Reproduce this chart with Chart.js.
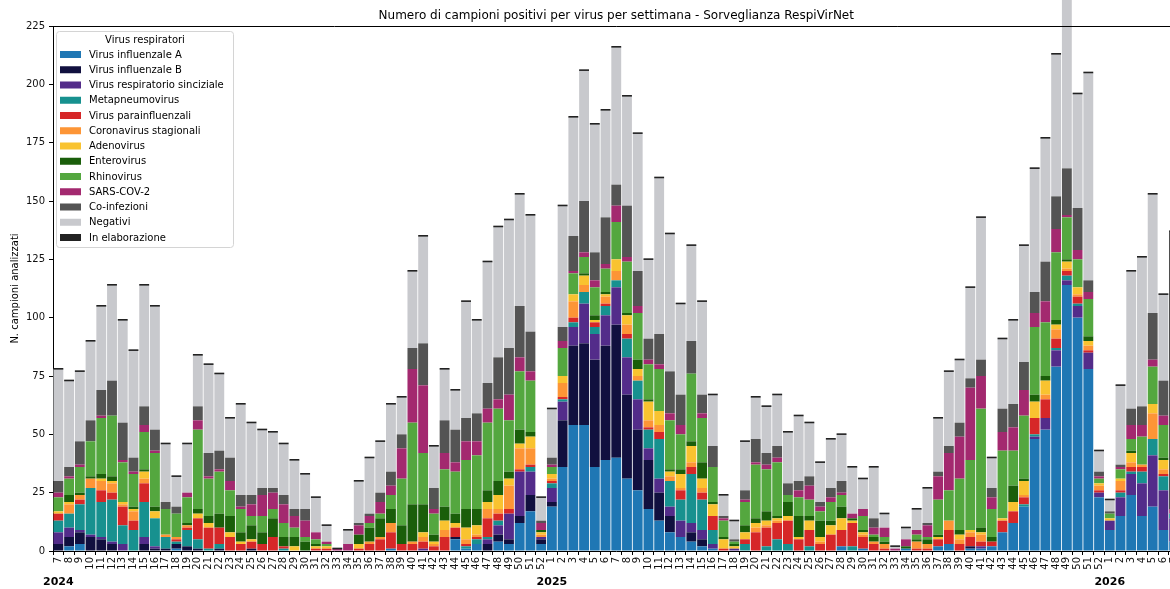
<!DOCTYPE html>
<html>
<head>
<meta charset="utf-8">
<script src="https://cdn.jsdelivr.net/npm/chart.js@4.4.1/dist/chart.umd.min.js"></script>
<style>
  html, body { margin: 0; padding: 0; background: #fff; overflow: hidden; width: 1170px; height: 589px; }
  #wrap { width: 1190px; height: 589px; }
  canvas { display: block; }
</style>
</head>
<body>
<div id="wrap"><canvas id="chart" width="1190" height="589"></canvas></div>
<script>
// Settimane di sorveglianza per stagione/anno
const weeks2024 = ['7','8','9','10','11','12','13','14','15','16','17','18','19','20','21','22','23','24','25','26','27','28','29','30','31','32','33','34','35','36','37','38','39','40','41','42','43','44','45','46','47','48','49','50','51','52'];
const weeks2025 = ['1','2','3','4','5','6','7','8','9','10','11','12','13','14','15','16','17','18','19','20','21','22','23','24','25','26','27','28','29','30','31','32','33','34','35','36','37','38','39','40','41','42','43','44','45','46','47','48','49','50','51','52'];
const weeks2026 = ['1','2','3','4','5','6','7'];
const yearLabels = ['2024', '2025', '2026'];

// Campioni per categoria, settimana per settimana
const influenzaA = [
  0,2,3,0,0,0,0,0,0,0,0,1,0,0,0,0,0,0,0,0,0,0,0,0,0,0,0,0,0,0,0,1,0,0,0,0,0,5,1,3,0,4,3,12,17,3,
  19,36,54,54,36,39,40,31,26,18,13,8,6,4,2,1,0,0,0,0,0,0,0,0,0,0,0,2,0,1,0,0,0,1,0,0,2,3,0,1,1,2,8,12,19,48,52,79,114,100,78,23,
  9,15,24,15,19,9,4];
const influenzaB = [
  3,4,5,6,5,3,0,0,3,1,1,2,2,1,0,1,0,0,1,0,0,0,0,0,0,0,0,0,0,0,0,0,0,0,0,0,0,1,0,0,3,3,2,3,7,2,
  2,20,34,35,46,49,57,36,26,21,12,7,0,4,3,0,0,0,0,0,0,0,0,0,0,0,0,0,0,0,0,0,0,0,0,0,0,0,0,1,0,0,0,0,0,0,0,0,0,0,0,0,
  0,0,0,0,0,0,0];
const rsv = [
  5,4,1,1,1,1,3,0,3,1,0,0,0,0,0,0,0,0,0,0,0,0,0,0,0,0,0,0,0,0,0,0,0,0,1,0,0,0,0,0,2,4,11,19,10,1,
  6,8,8,17,11,13,16,16,13,5,6,4,7,4,4,2,0,1,0,0,0,0,0,0,0,0,0,0,0,0,0,0,0,0,0,0,0,0,0,0,1,0,0,0,0,1,5,7,2,5,7,2,
  4,8,9,14,22,17,10];
const metapneumo = [
  5,6,11,20,15,18,8,9,15,12,5,1,7,4,1,2,0,0,0,0,0,1,0,0,0,0,0,0,0,0,0,0,0,0,0,0,0,0,1,2,1,2,0,0,2,0,
  2,1,2,5,3,4,3,8,8,8,17,11,9,21,13,6,0,0,3,0,2,5,3,0,2,0,0,0,2,0,0,0,0,0,0,0,0,0,0,0,0,0,0,0,1,1,0,1,2,1,0,0,
  0,2,1,5,7,6,2];
const parainfluenza = [
  3,0,2,0,5,3,8,4,8,0,0,1,1,9,9,7,6,3,3,3,6,1,0,0,1,1,0,0,1,3,5,7,3,3,3,2,6,4,1,1,8,3,2,1,1,0,
  1,1,2,0,2,1,0,2,0,1,3,0,4,3,3,6,1,0,2,8,8,7,10,5,7,3,7,7,10,5,3,1,0,0,1,1,3,6,3,4,2,2,5,5,3,7,8,4,2,3,1,1,
  0,1,2,2,0,1,0];
const coronavirus = [
  0,4,2,4,4,4,1,4,2,0,1,1,1,0,0,0,0,0,0,0,0,0,0,0,0,0,0,0,0,1,1,4,0,1,2,1,3,0,2,1,4,2,10,9,7,1,
  1,6,7,3,0,3,4,4,2,3,3,2,1,2,2,0,0,0,0,2,1,1,0,0,0,1,0,0,0,1,1,2,0,0,3,2,0,4,2,2,3,0,0,0,1,0,2,4,1,1,2,2,
  0,4,2,1,11,2,0];
const adenovirus = [
  1,1,0,0,1,1,1,1,3,3,0,0,0,2,2,0,2,1,1,0,0,0,2,0,1,1,0,0,2,0,0,0,0,0,2,1,4,2,5,4,3,6,3,2,5,1,
  2,3,3,4,1,1,5,4,3,8,6,2,6,7,4,5,4,1,3,2,2,1,2,1,4,2,4,5,1,1,0,0,0,0,0,0,1,0,2,1,1,0,1,4,6,7,6,2,3,3,2,1,
  1,1,4,0,4,4,0];
const enterovirus = [
  0,3,1,1,2,2,0,1,1,2,0,0,1,2,3,6,7,4,6,5,8,4,4,4,1,0,0,0,4,6,8,6,8,16,12,3,6,4,8,7,5,6,3,6,2,1,
  0,0,0,1,2,1,0,1,4,1,0,1,2,2,7,1,1,1,3,2,4,1,6,9,2,7,2,5,1,1,2,1,0,1,1,2,1,0,2,0,2,2,0,7,1,3,2,2,1,0,2,0,
  0,0,1,0,0,1,0];
const rhinovirus = [
  6,7,11,15,24,26,17,14,16,23,11,10,11,34,16,18,11,10,4,7,4,6,4,2,2,1,0,0,0,2,2,6,20,35,22,9,16,18,21,23,29,31,22,25,22,0,
  3,12,9,7,12,10,16,22,20,15,18,21,15,29,19,15,7,1,10,23,18,23,3,8,7,4,8,5,0,6,1,2,0,0,2,1,15,13,22,30,51,12,29,15,27,29,23,29,18,12,16,2,
  2,4,5,12,16,14,0];
const sarsCov2 = [
  2,1,1,0,1,0,1,1,3,1,0,0,2,4,1,1,4,1,5,9,7,8,5,7,3,1,1,3,4,3,5,4,13,23,29,2,7,4,8,6,6,4,11,6,4,3,
  1,3,1,2,3,2,7,2,3,2,2,3,4,0,2,0,1,0,1,1,2,2,0,3,6,2,2,1,2,3,3,4,1,3,2,5,10,16,18,31,14,5,8,10,11,6,9,10,1,4,3,1,
  0,1,6,5,3,4,2];
const coinfezioni = [
  5,4,10,9,11,15,16,6,8,9,3,3,0,6,10,8,10,5,4,3,2,4,3,5,0,0,0,0,1,1,4,6,6,9,18,9,14,14,10,12,11,18,20,22,17,1,
  3,6,15,22,12,20,9,22,15,9,13,18,13,14,8,9,1,1,4,10,5,5,5,4,4,2,4,5,0,0,4,0,0,0,0,1,2,3,6,4,7,4,10,10,12,9,17,14,20,18,5,2,
  1,1,7,8,20,15,0];
const negativi = [
  48,37,30,34,36,41,44,46,52,53,25,13,21,22,38,33,17,39,31,25,24,22,21,15,15,7,0,6,18,24,22,29,16,33,46,18,22,17,50,40,52,56,55,48,50,10,
  21,52,51,56,55,46,59,47,59,34,67,59,39,41,40,22,9,8,21,18,20,22,22,28,23,17,21,20,20,13,22,6,1,5,9,15,23,32,27,39,61,13,30,36,50,53,53,61,81,49,89,9,
  5,34,59,64,51,37,0];
const inElaborazione = [
  0,0,0,0,0,0,0,0,0,0,0,0,0,0,0,0,0,0,0,0,0,0,0,0,0,0,0,0,0,0,0,0,0,0,0,0,0,0,0,0,0,0,0,0,0,0,
  0,0,0,0,0,0,0,0,0,0,0,0,0,0,0,0,0,0,0,0,0,0,0,0,0,0,0,0,0,0,0,0,0,0,0,0,0,0,0,0,0,0,0,0,0,0,0,0,0,0,0,0,
  0,0,0,0,0,0,119];

const seriesLabels = ['Virus influenzale A','Virus influenzale B','Virus respiratorio sinciziale','Metapneumovirus','Virus parainfluenzali','Coronavirus stagionali','Adenovirus','Enterovirus','Rhinovirus','SARS-COV-2','Co-infezioni','Negativi','In elaborazione'];
const seriesValues = [influenzaA, influenzaB, rsv, metapneumo, parainfluenza, coronavirus, adenovirus, enterovirus, rhinovirus, sarsCov2, coinfezioni, negativi, inElaborazione];
const seriesColors = ['#1f77b4','#11103f','#532c8a','#17918f','#d62728','#fd9536','#f9c330','#1a5e0a','#54a73f','#a3296f','#545454','#c8c9cd','#222222'];

const weekGroups = [weeks2024, weeks2025, weeks2026];
const categories = [].concat(...weekGroups);
const FONT = "'DejaVu Sans', sans-serif";

const datasets = seriesValues.map((vals, k) => ({
  label: seriesLabels[k],
  data: vals,
  backgroundColor: seriesColors[k],
  borderWidth: 0,
  barPercentage: 0.92,
  categoryPercentage: 1.0,
  clip: false
}));

// Titolo, etichette, anni, legenda e cappucci neri in cima alle barre
const decorations = {
  id: 'decorations',
  afterDatasetsDraw(chart) {
    const { ctx, chartArea: a, scales: { y } } = chart;
    const sets = chart.data.datasets;
    const meta = chart.getDatasetMeta(0);
    ctx.save();
    ctx.fillStyle = '#222222';
    for (let i = 0; i < categories.length; i++) {
      let total = 0;
      sets.forEach(d => { total += d.data[i]; });
      if (!total) continue;
      const bar = meta.data[i];
      const top = y.getPixelForValue(total);
      ctx.fillRect(bar.x - bar.width / 2, top - 1, bar.width, 1.6);
    }
    ctx.strokeStyle = '#000';
    ctx.lineWidth = 1;
    ctx.beginPath();
    ctx.moveTo(a.left, Math.round(a.top) + 0.5);
    ctx.lineTo(a.right, Math.round(a.top) + 0.5);
    ctx.stroke();
    ctx.restore();
  },
  afterDraw(chart) {
    const { ctx, chartArea: a, scales: { x } } = chart;
    ctx.save();
    ctx.fillStyle = '#000';
    ctx.textBaseline = 'middle';

    // titolo
    ctx.font = '12px ' + FONT;
    ctx.textAlign = 'center';
    ctx.fillText('Numero di campioni positivi per virus per settimana - Sorveglianza RespiVirNet', (a.left + a.right) / 2, 16);

    // etichetta asse y
    ctx.save();
    ctx.translate(15, (a.top + a.bottom) / 2);
    ctx.rotate(-Math.PI / 2);
    ctx.font = '10px ' + FONT;
    ctx.fillText('N. campioni analizzati', 0, 0);
    ctx.restore();

    // anni sotto la prima settimana di ciascuno
    ctx.font = 'bold 11px ' + FONT;
    let offset = 0;
    weekGroups.forEach((g, k) => {
      ctx.fillText(yearLabels[k], x.getPixelForValue(offset), 582);
      offset += g.length;
    });

    // legenda
    const lx = 56.5, ly = 31.5, lw = 177, lh = 216;
    ctx.fillStyle = 'rgba(255,255,255,0.85)';
    ctx.strokeStyle = '#d4d4d4';
    ctx.lineWidth = 1;
    ctx.beginPath();
    ctx.roundRect(lx, ly, lw, lh, 3);
    ctx.fill();
    ctx.stroke();
    ctx.fillStyle = '#000';
    ctx.font = '10px ' + FONT;
    ctx.textAlign = 'center';
    ctx.fillText('Virus respiratori', lx + lw / 2, 40.5);
    ctx.textAlign = 'left';
    chart.data.datasets.forEach((d, i) => {
      const cy = 54.5 + 15.25 * i;
      ctx.fillStyle = d.backgroundColor;
      ctx.fillRect(60, cy - 3.5, 21, 7);
      ctx.fillStyle = '#000';
      ctx.fillText(d.label, 89, cy + 0.5);
    });
    ctx.restore();
  }
};

new Chart(document.getElementById('chart'), {
  type: 'bar',
  data: { labels: categories, datasets },
  options: {
    responsive: false,
    animation: false,
    devicePixelRatio: 1,
    layout: { padding: { top: 26, left: 0, right: 10.5, bottom: 0 } },
    plugins: {
      legend: { display: false },
      title: { display: false },
      tooltip: { enabled: false }
    },
    scales: {
      x: {
        stacked: true,
        offset: true,
        grid: { display: true, drawOnChartArea: false, drawTicks: true, tickLength: 4, color: '#000' },
        border: { display: true, color: '#000', width: 1 },
        ticks: {
          autoSkip: false, maxRotation: 90, minRotation: 90, padding: 2,
          color: '#111', font: { family: FONT, size: 10 }
        },
        afterFit(scale) { scale.height = 38; }
      },
      y: {
        stacked: true,
        min: 0, max: 225,
        grid: { display: true, drawOnChartArea: false, drawTicks: true, tickLength: 4, color: '#000' },
        border: { display: true, color: '#000', width: 1 },
        ticks: { stepSize: 25, padding: 4, color: '#111', font: { family: FONT, size: 10 } },
        afterFit(scale) { scale.width = 53; }
      }
    }
  },
  plugins: [decorations]
});
</script>
</body>
</html>
